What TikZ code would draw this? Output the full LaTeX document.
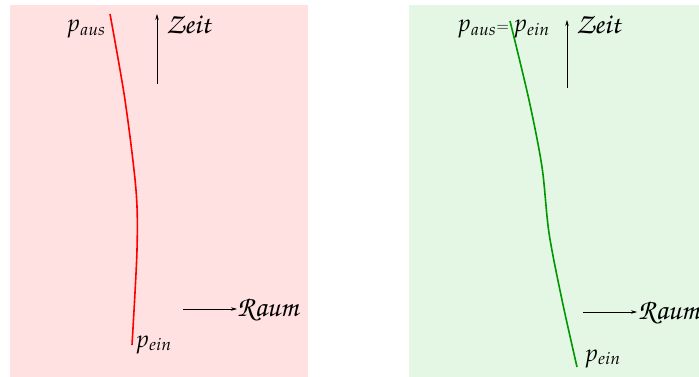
\documentclass[tikz,border=0pt]{standalone}
\usepackage[T1,TU]{fontenc}
\usepackage{mathpazo}
\usepackage{tikz}
\usetikzlibrary{arrows.meta}
\DeclareMathSizes{24}{24}{17}{12}
\definecolor{bgrot}{RGB}{255,225,225}
\definecolor{bggruen}{RGB}{228,246,228}
\definecolor{liniegruen}{RGB}{0,150,0}
\newcommand{\chanc}{\fontencoding{T1}\fontfamily{pzc}\fontseries{mb}\fontshape{it}\selectfont}
\tikzset{
  achse/.style={-{Stealth[length=6pt,width=3.5pt]}, line width=0.6pt},
  achstext/.style={font=\chanc\fontsize{29}{34}\selectfont, inner sep=0pt},
  ptext/.style={font=\fontsize{24}{28}\selectfont, inner sep=0pt}
}
\begin{document}
\begin{tikzpicture}[x=1pt,y=-1pt]
  \useasboundingbox (0,0) rectangle (699,377);
  % Hintergruende
  \fill[bgrot] (10,5) rectangle (308,377);
  \fill[bggruen] (409,5) rectangle (699,377);
  % links: Weltlinie
  \coordinate (ausL) at (110,14);
  \coordinate (einL) at (132,345);
  \draw[red, line width=1.6pt] plot [smooth] coordinates {(ausL) (125,100) (136,190) (137,250) (einL)};
  \node[ptext, anchor=base east] (pausL) at (106,32) {$p_{aus}$};
  \node[ptext, anchor=base west] (peinL) at (135,347) {$p_{ein}$};
  % links: Achsen
  \coordinate (zeitL0) at (157,84);
  \coordinate (zeitL1) at (157,14);
  \draw[achse] (zeitL0) -- (zeitL1);
  \node[achstext, anchor=base west] (zeitL) at (166,34) {Zeit};
  \coordinate (raumL0) at (183,309);
  \coordinate (raumL1) at (237,309);
  \draw[achse] (raumL0) -- (raumL1);
  \node[achstext, anchor=base west] (raumL) at (237,316) {Raum};
  % rechts: Weltlinie
  \coordinate (ausR) at (510,21);
  \coordinate (einR) at (577,367);
  \draw[liniegruen, line width=1.6pt] plot [smooth] coordinates {(ausR) (529,100) (542,167) (549,233) (562,300) (einR)};
  \node[ptext, anchor=base east] (pausR) at (509,32) {$p_{aus}$\fontsize{17}{20}\selectfont=};
  \node[ptext, anchor=base west] (peinR) at (513,32) {$p_{ein}$};
  \node[ptext, anchor=base west] (peinR2) at (584,361) {$p_{ein}$};
  % rechts: Achsen
  \coordinate (zeitR0) at (567,88);
  \coordinate (zeitR1) at (567,20);
  \draw[achse] (zeitR0) -- (zeitR1);
  \node[achstext, anchor=base west] (zeitR) at (576,34) {Zeit};
  \coordinate (raumR0) at (583,312);
  \coordinate (raumR1) at (637,312);
  \draw[achse] (raumR0) -- (raumR1);
  \node[achstext, anchor=base west] (raumR) at (638,319) {Raum};
\end{tikzpicture}
\end{document}
